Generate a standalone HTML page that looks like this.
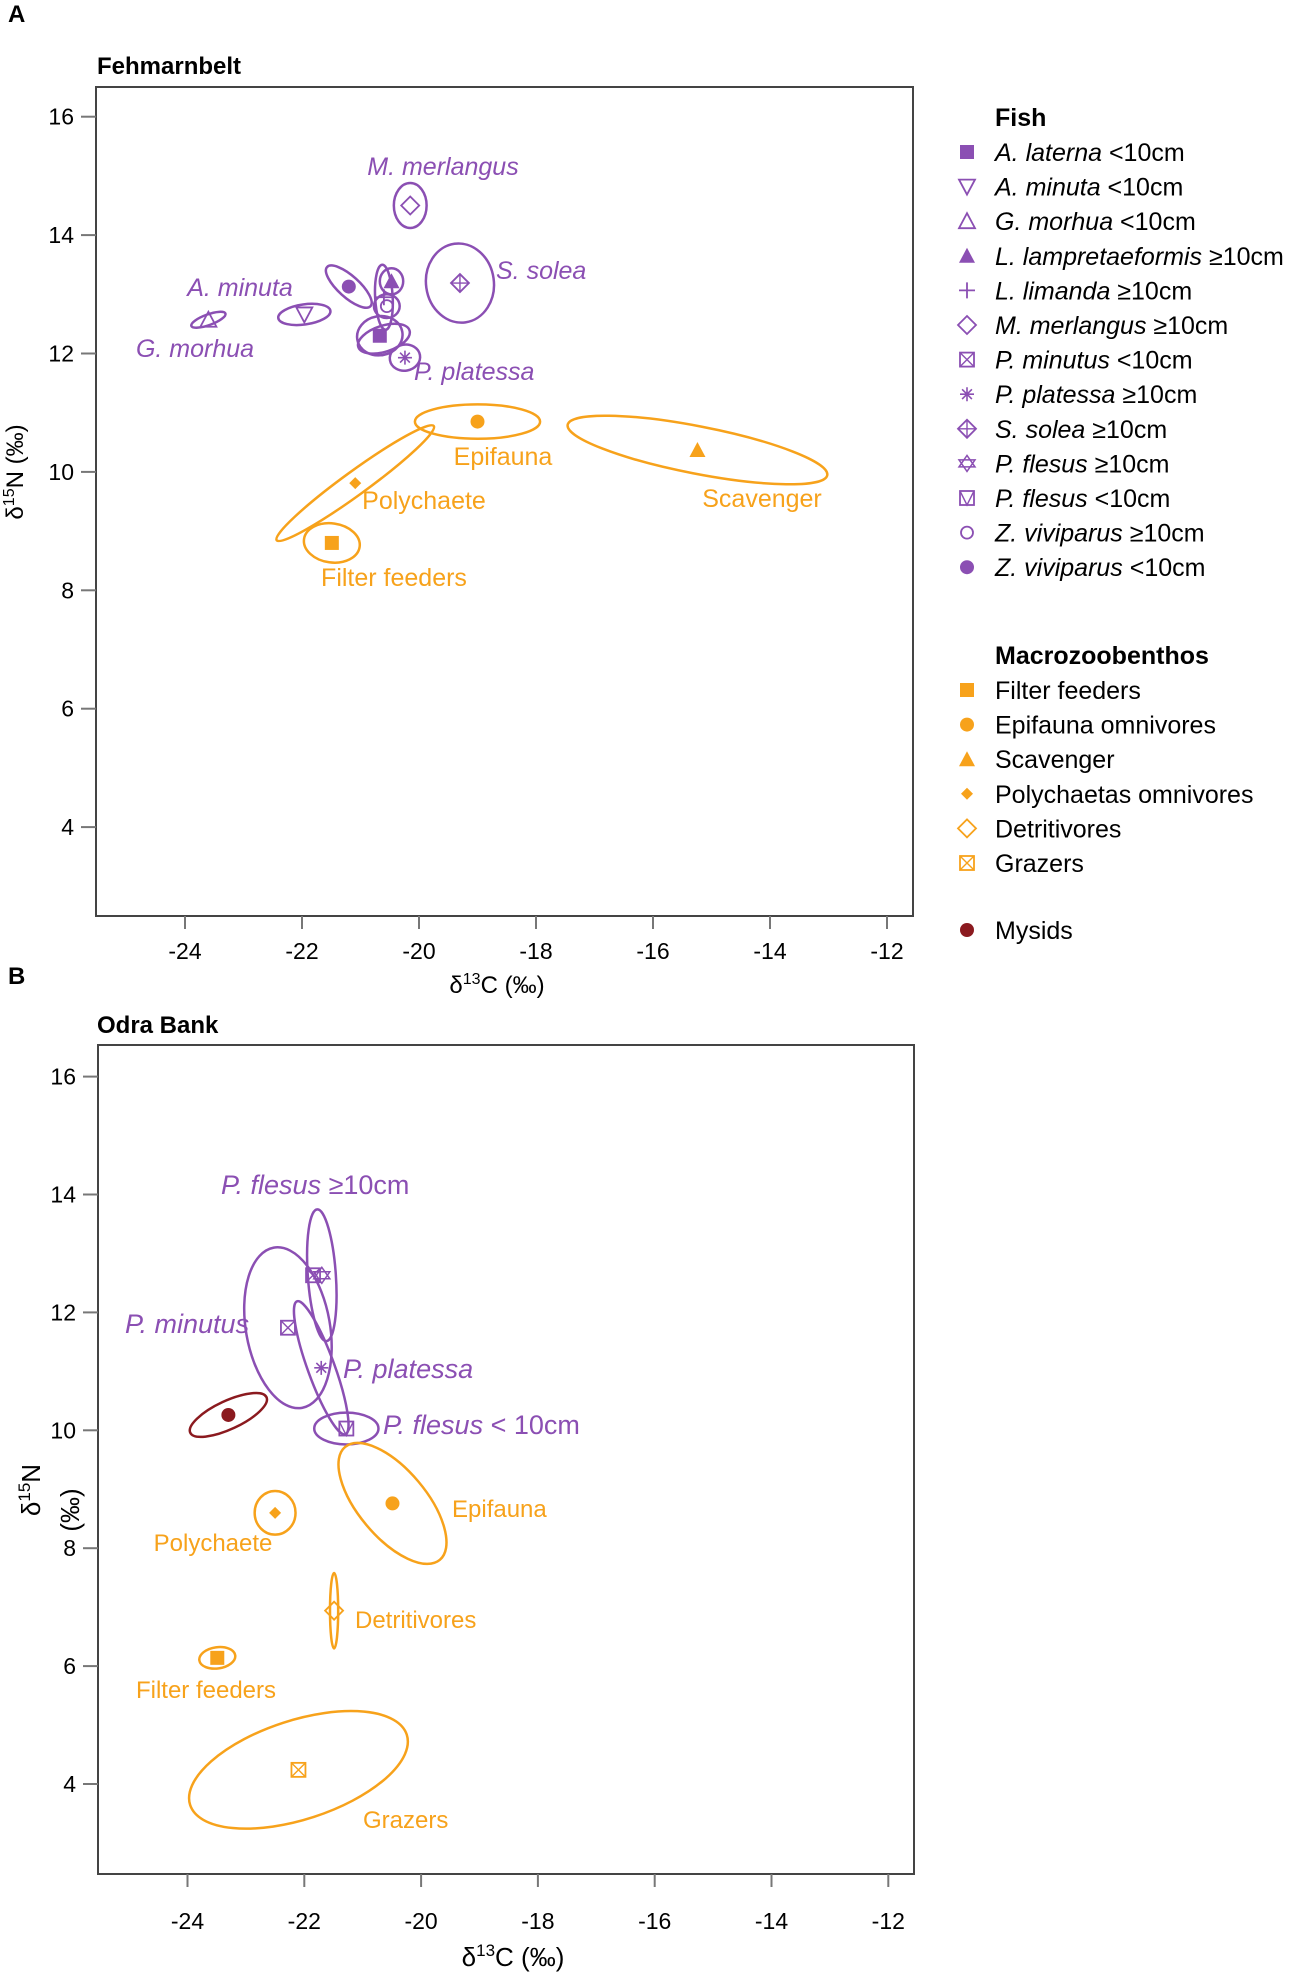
<!DOCTYPE html>
<html><head><meta charset="utf-8">
<style>
html,body{margin:0;padding:0;background:#fff;}
svg{display:block;font-family:"Liberation Sans",sans-serif;}
</style></head>
<body>
<svg id="fig" width="1297" height="1976" viewBox="0 0 1297 1976" xmlns="http://www.w3.org/2000/svg">
<text x="8" y="22" font-size="24" font-weight="bold">A</text>
<text x="8" y="984" font-size="24" font-weight="bold">B</text>
<text x="97" y="74" font-size="24" font-weight="bold">Fehmarnbelt</text>
<text x="97" y="1033" font-size="24" font-weight="bold">Odra Bank</text>
</svg>
<script>
// ---------- data ----------
const xTicks = [-24,-22,-20,-18,-16,-14,-12];
const yTicks = [4,6,8,10,12,14,16];
// Panel A groups
const aNames = ["M. merlangus","S. solea","Z. viviparus <10","L. lampretaeformis","L. limanda","Z. viviparus >=10","A. laterna","P. minutus","P. platessa","A. minuta","G. morhua","Epifauna","Scavenger","Polychaete","Filter feeders"];
const aX = [-20.15,-19.3,-21.2,-20.47,-20.6,-20.55,-20.67,-20.6,-20.24,-21.96,-23.6,-19.0,-15.24,-21.09,-21.49];
const aY = [14.5,13.19,13.13,13.22,12.95,12.8,12.3,12.25,11.93,12.66,12.57,10.85,10.37,9.81,8.8];
const aMarker = ["diamond","diamondplus","dot","trifill","plus","circle","square","none","asterisk","tridown","triup","dot","trifill","diamondfill","square"];
const aColor = ["p","p","p","p","p","p","p","p","p","p","p","o","o","o","o"];
const aRx = [0.28,0.58,0.5,0.2,0.15,0.22,0.39,0.46,0.26,0.45,0.31,1.07,2.26,1.66,0.48];
const aRy = [0.38,0.67,0.18,0.22,0.55,0.2,0.33,0.22,0.22,0.17,0.09,0.29,0.4,0.2,0.33];
const aRot = [0,-8,42,0,-3,0,-10,-18,-10,-8,-20,0,11,-36,8];
// Panel B groups
const bNames = ["P. flesus >=10","P. minutus","P. platessa","P. flesus <10","Mysids","Epifauna","Polychaete","Detritivores","Filter feeders","Grazers"];
const bX = [-21.7,-22.28,-21.71,-21.28,-23.3,-20.49,-22.5,-21.49,-23.49,-22.1];
const bY = [12.63,11.74,11.06,10.03,10.26,8.76,8.6,6.94,6.14,4.24];
const bMarker = ["star","squarex","asterisk","flesussq","dot","dot","diamondfill","diamond","square","squarex"];
const bColor = ["p","p","p","p","r","o","o","o","o","o"];
const bRx = [0.24,0.72,0.23,0.55,0.72,0.58,0.35,0.07,0.31,1.95];
const bRy = [1.12,1.38,1.2,0.27,0.24,1.25,0.37,0.64,0.18,0.84];
const bRot = [-4,-10,-20,0,-25,-40,0,0,-8,-18];
const bExtra = [-21.85,12.63];

const COL = {p:"#8b4fb3", o:"#f7a21b", r:"#8b1a1f"};
const NS = "http://www.w3.org/2000/svg";
const svg = document.getElementById("fig");
function el(tag, attrs, parent){const e=document.createElementNS(NS,tag);for(const k in attrs)e.setAttribute(k,attrs[k]);(parent||svg).appendChild(e);return e;}

function makePanel(cfg){
  const X = v => cfg.x0 + (v+24)*cfg.ux;
  const Y = v => cfg.y0 + (16-v)*cfg.uy;
  const g = el("g",{});
  
  
  const box = el("rect",{x:cfg.left,y:cfg.top,width:cfg.right-cfg.left,height:cfg.bottom-cfg.top,fill:"none",stroke:"#444","stroke-width":2},g);
  
  
  xTicks.forEach(t=>{
    const l = el("line",{x1:X(t),x2:X(t),y1:cfg.bottom,y2:cfg.bottom+13,stroke:"#777","stroke-width":2},g);
    
    
    const tx = el("text",{x:X(t),y:cfg.xLabY,"font-size":23,"text-anchor":"middle"},g);
    tx.textContent = String(t);
    
    
  });
  yTicks.forEach(t=>{
    const l = el("line",{x1:cfg.left-15,x2:cfg.left,y1:Y(t),y2:Y(t),stroke:"#777","stroke-width":2},g);
    
    
    const tx = el("text",{x:cfg.left-22,y:Y(t)+8,"font-size":23,"text-anchor":"end"},g);
    tx.textContent = String(t);
    
    
  });
  for(let i=0;i<cfg.xs.length;i++){
    const cx=X(cfg.xs[i]), cy=Y(cfg.ys[i]), c=COL[cfg.cols[i]];
    const e = el("ellipse",{cx:cx,cy:cy,rx:cfg.rx[i]*cfg.ux,ry:cfg.ry[i]*cfg.uy,fill:"none",stroke:c,"stroke-width":2.5,transform:`rotate(${cfg.rot[i]} ${cx} ${cy})`},g);
    
    
    const m = drawMarker(g,cfg.markers[i],cx,cy,c,14);
    if(m){
      
      
    }
  }
  return {X,Y,g};
}

function drawMarker(parent,type,cx,cy,c,s){
  const h=s/2; const g=el("g",{},parent);
  const sw=1.8;
  switch(type){
    case "square": el("rect",{x:cx-h,y:cy-h,width:s,height:s,fill:c},g);break;
    case "dot": el("circle",{cx:cx,cy:cy,r:h,fill:c},g);break;
    case "circle": el("circle",{cx:cx,cy:cy,r:h-1,fill:"none",stroke:c,"stroke-width":sw},g);break;
    case "trifill": el("polygon",{points:`${cx},${cy-h-1} ${cx+h+1},${cy+h} ${cx-h-1},${cy+h}`,fill:c},g);break;
    case "triup": el("polygon",{points:`${cx},${cy-h-1} ${cx+h+1},${cy+h} ${cx-h-1},${cy+h}`,fill:"none",stroke:c,"stroke-width":sw},g);break;
    case "tridown": el("polygon",{points:`${cx},${cy+h+1} ${cx+h+1},${cy-h} ${cx-h-1},${cy-h}`,fill:"none",stroke:c,"stroke-width":sw},g);break;
    case "plus": el("path",{d:`M${cx-h-1},${cy}H${cx+h+1}M${cx},${cy-h-1}V${cy+h+1}`,stroke:c,"stroke-width":sw},g);break;
    case "diamond": el("polygon",{points:`${cx},${cy-h-2} ${cx+h+2},${cy} ${cx},${cy+h+2} ${cx-h-2},${cy}`,fill:"none",stroke:c,"stroke-width":sw},g);break;
    case "diamondfill": el("polygon",{points:`${cx},${cy-h+1} ${cx+h-1},${cy} ${cx},${cy+h-1} ${cx-h+1},${cy}`,fill:c},g);break;
    case "diamondplus": el("polygon",{points:`${cx},${cy-h-2} ${cx+h+2},${cy} ${cx},${cy+h+2} ${cx-h-2},${cy}`,fill:"none",stroke:c,"stroke-width":sw},g);
      el("path",{d:`M${cx-h-2},${cy}H${cx+h+2}M${cx},${cy-h-2}V${cy+h+2}`,stroke:c,"stroke-width":1.4},g);break;
    case "asterisk": el("path",{d:`M${cx-h},${cy}H${cx+h}M${cx},${cy-h}V${cy+h}M${cx-h*0.7},${cy-h*0.7}L${cx+h*0.7},${cy+h*0.7}M${cx-h*0.7},${cy+h*0.7}L${cx+h*0.7},${cy-h*0.7}`,stroke:c,"stroke-width":1.6},g);break;
    case "squarex": el("rect",{x:cx-h,y:cy-h,width:s,height:s,fill:"none",stroke:c,"stroke-width":sw},g);
      el("path",{d:`M${cx-h},${cy-h}L${cx+h},${cy+h}M${cx-h},${cy+h}L${cx+h},${cy-h}`,stroke:c,"stroke-width":1.4},g);break;
    case "flesussq": el("rect",{x:cx-h,y:cy-h,width:s,height:s,fill:"none",stroke:c,"stroke-width":sw},g);
      el("path",{d:`M${cx-h},${cy-h}L${cx},${cy+h}L${cx+h},${cy-h}`,fill:"none",stroke:c,"stroke-width":1.4},g);break;
    case "star": el("polygon",{points:`${cx},${cy-h-1} ${cx+h+1},${cy+h*0.5} ${cx-h-1},${cy+h*0.5}`,fill:"none",stroke:c,"stroke-width":1.5},g);
      el("polygon",{points:`${cx},${cy+h+1} ${cx+h+1},${cy-h*0.5} ${cx-h-1},${cy-h*0.5}`,fill:"none",stroke:c,"stroke-width":1.5},g);break;
    case "none": g.remove(); return null;
  }
  return g;
}

const A = makePanel({name:"panel-a-fehmarnbelt",x0:185,ux:58.5,y0:116.7,uy:59.2,left:96,right:913,top:87,bottom:916,xLabY:959,
  xs:aX,ys:aY,markers:aMarker,cols:aColor,rx:aRx,ry:aRy,rot:aRot,names:aNames});
const B = makePanel({name:"panel-b-odra-bank",x0:187.5,ux:58.4,y0:1076.6,uy:58.95,left:98,right:914,top:1045,bottom:1874,xLabY:1929,
  xs:bX,ys:bY,markers:bMarker,cols:bColor,rx:bRx,ry:bRy,rot:bRot,names:bNames});
const ex = drawMarker(B.g,"squarex",B.X(bExtra[0]),B.Y(bExtra[1]),COL.p,14);



// ---------- labels ----------
function label(txt,x,y,color,anchor,italic,name,size){
  const t = el("text",{x:x,y:y,fill:color,"font-size":size||25,"text-anchor":anchor||"start","font-style":italic?"italic":"normal"});
  t.textContent = txt;
  
  
  return t;
}
const P=COL.p,O=COL.o;
label("M. merlangus",443,175,P,"middle",true,"label-m-merlangus");
label("S. solea",496,279,P,"start",true,"label-s-solea");
label("A. minuta",240,296,P,"middle",true,"label-a-minuta");
label("G. morhua",195,357,P,"middle",true,"label-g-morhua");
label("P. platessa",414,380,P,"start",true,"label-p-platessa-a");
label("Epifauna",503,465,O,"middle",false,"label-epifauna-a");
label("Polychaete",424,509,O,"middle",false,"label-polychaete-a");
label("Scavenger",762,507,O,"middle",false,"label-scavenger");
label("Filter feeders",394,586,O,"middle",false,"label-filter-feeders-a");

const tb1 = el("text",{x:221,y:1194,fill:P,"font-size":27});


tb1.innerHTML = '<tspan font-style="italic">P. flesus</tspan> ≥10cm';
label("P. minutus",125,1333,P,"start",true,"label-p-minutus",27);
label("P. platessa",343,1378,P,"start",true,"label-p-platessa-b",27);
const tb2 = el("text",{x:383,y:1434,fill:P,"font-size":27});


tb2.innerHTML = '<tspan font-style="italic">P. flesus</tspan> &lt; 10cm';
label("Epifauna",452,1517,O,"start",false,"label-epifauna-b",24);
label("Polychaete",213,1551,O,"middle",false,"label-polychaete-b",24);
label("Detritivores",355,1628,O,"start",false,"label-detritivores",24);
label("Filter feeders",206,1698,O,"middle",false,"label-filter-feeders-b",24);
label("Grazers",363,1828,O,"start",false,"label-grazers",24);

// axis titles
const xa = el("text",{x:497,y:993,"font-size":24,"text-anchor":"middle"});
xa.innerHTML='δ<tspan font-size="16" dy="-9">13</tspan><tspan dy="9">C (‰)</tspan>';


const ya = el("text",{x:0,y:0,"font-size":24,"text-anchor":"middle",transform:"translate(23,472) rotate(-90)"});
ya.innerHTML='δ<tspan font-size="16" dy="-9">15</tspan><tspan dy="9">N (‰)</tspan>';


const xb = el("text",{x:513,y:1966,"font-size":26,"text-anchor":"middle"});
xb.innerHTML='δ<tspan font-size="17" dy="-10">13</tspan><tspan dy="10">C (‰)</tspan>';


const yb = el("text",{x:0,y:0,"font-size":26,"text-anchor":"middle",transform:"translate(40,1490) rotate(-90)"});
yb.innerHTML='δ<tspan font-size="17" dy="-10">15</tspan><tspan dy="10">N</tspan>';


const yb2 = el("text",{x:0,y:0,"font-size":26,"text-anchor":"middle",transform:"translate(79,1510) rotate(-90)"});
yb2.textContent='(‰)';



// ---------- legend ----------
const fishNames = [["A. laterna","<10cm"],["A. minuta","<10cm"],["G. morhua","<10cm"],["L. lampretaeformis","≥10cm"],["L. limanda","≥10cm"],["M. merlangus","≥10cm"],["P. minutus","<10cm"],["P. platessa","≥10cm"],["S. solea","≥10cm"],["P. flesus","≥10cm"],["P. flesus","<10cm"],["Z. viviparus","≥10cm"],["Z. viviparus","<10cm"]];
const fishMarkers = ["square","tridown","triup","trifill","plus","diamond","squarex","asterisk","diamondplus","star","flesussq","circle","dot"];
const benthNames = ["Filter feeders","Epifauna omnivores","Scavenger","Polychaetas omnivores","Detritivores","Grazers"];
const benthMarkers = ["square","dot","trifill","diamondfill","diamond","squarex"];
const lg = el("g",{});


const h1 = el("text",{x:995,y:126,"font-size":25,"font-weight":"bold"},lg); h1.textContent="Fish";


fishNames.forEach((n,i)=>{
  const y=152+i*34.6;
  const m = drawMarker(lg,fishMarkers[i],967,y,P,14);
  
  
  const t = el("text",{x:995,y:y+9,"font-size":25},lg);
  t.innerHTML=`<tspan font-style="italic">${n[0]}</tspan> ${n[1].replace('<','&lt;')}`;
  
  
});
const h2 = el("text",{x:995,y:664,"font-size":25,"font-weight":"bold"},lg); h2.textContent="Macrozoobenthos";


benthNames.forEach((n,i)=>{
  const y=690+i*34.6;
  const m = drawMarker(lg,benthMarkers[i],967,y,O,14);
  
  
  const t = el("text",{x:995,y:y+9,"font-size":25},lg); t.textContent=n;
  
  
});
const mm = drawMarker(lg,"dot",967,930,COL.r,14);


const mt = el("text",{x:995,y:939,"font-size":25},lg); mt.textContent="Mysids";


</script>
</body></html>
